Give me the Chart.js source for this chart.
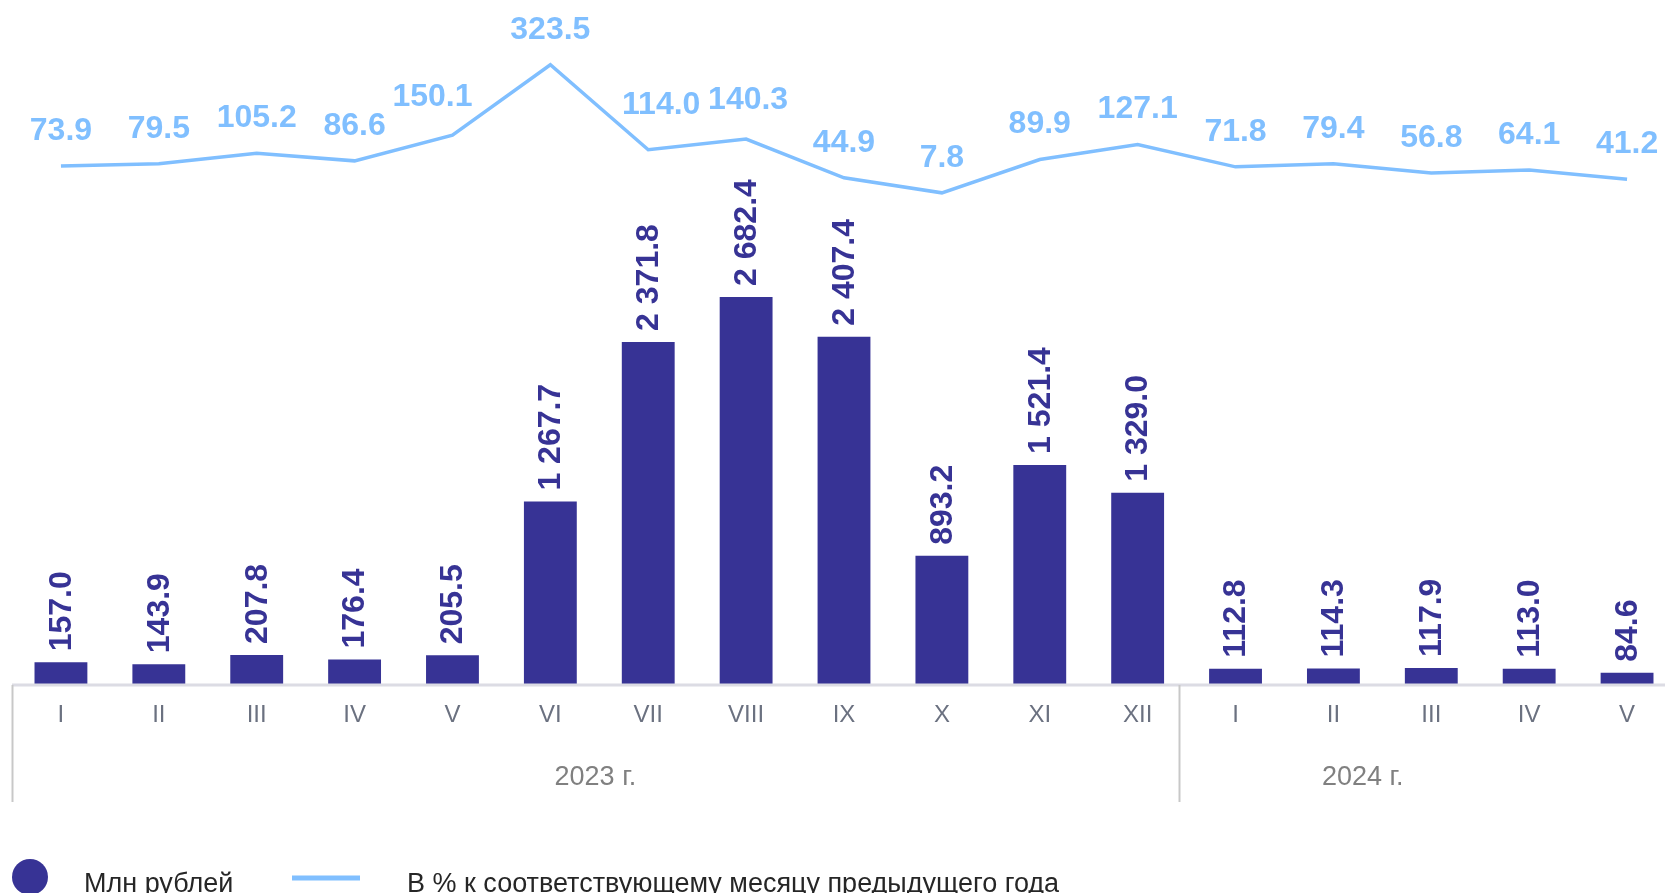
<!DOCTYPE html>
<html lang="ru">
<head>
<meta charset="utf-8">
<script src="https://cdn.jsdelivr.net/npm/chart.js@4"></script>
<style>
    html, body { margin: 0; padding: 0; background: #fff; overflow: hidden; }
    #wrap { position: absolute; left: 0; top: 0; width: 1700px; height: 893px; }
</style>
</head>
<body>
<div id="wrap"><canvas id="chart" width="1700" height="893"></canvas></div>
<script>
// Months (2023 I..XII, 2024 I..V)
const months = ['I', 'II', 'III', 'IV', 'V', 'VI', 'VII', 'VIII', 'IX', 'X', 'XI', 'XII', 'I', 'II', 'III', 'IV', 'V'];
const years = ['2023 г.', '2024 г.'];
// Million roubles (bars)
const mlnRub = [157.0, 143.9, 207.8, 176.4, 205.5, 1267.7, 2371.8, 2682.4, 2407.4, 893.2, 1521.4, 1329.0, 112.8, 114.3, 117.9, 113.0, 84.6];
// % to the same month of the previous year (line)
const pctPrevYear = [73.9, 79.5, 105.2, 86.6, 150.1, 323.5, 114.0, 140.3, 44.9, 7.8, 89.9, 127.1, 71.8, 79.4, 56.8, 64.1, 41.2];
const legendLabels = ['Млн рублей', 'В % к соответствующему месяцу предыдущего года'];

const barColor = '#373395';
const lineColor = '#80bfff';
const FONT = "'Liberation Sans', Arial, sans-serif";

// a few line labels were nudged by hand in the original
const lineLabelNudge = { 4: [-20, -3], 6: [13, -10], 7: [2, -4] };

function fmt(v) {
    const parts = v.toFixed(1).split('.');
    parts[0] = parts[0].replace(/\B(?=(\d{3})+(?!\d))/g, ' ');
    return parts.join('.');
}

// axis labels, group separators, value labels and legend
const decorations = {
    id: 'decorations',
    afterDatasetsDraw(chart) {
        const ctx = chart.ctx;
        const x = chart.scales.x;
        const area = chart.chartArea;
        const base = area.bottom;
        ctx.save();

        // baseline
        ctx.strokeStyle = '#dcdce4';
        ctx.lineWidth = 3;
        ctx.beginPath();
        ctx.moveTo(area.left, base);
        ctx.lineTo(chart.width, base);
        ctx.stroke();

        // group separators
        ctx.strokeStyle = '#c8c8c8';
        ctx.lineWidth = 2;
        [-0.5, 11.42].forEach(i => {
            const px = Math.round(x.getPixelForValue(i)) + 0.5;
            ctx.beginPath();
            ctx.moveTo(px, base);
            ctx.lineTo(px, base + 117);
            ctx.stroke();
        });

        // month ticks
        ctx.fillStyle = '#6b7180';
        ctx.font = '24px ' + FONT;
        ctx.textAlign = 'center';
        ctx.textBaseline = 'middle';
        months.forEach((m, i) => ctx.fillText(m, x.getPixelForValue(i), base + 30));

        // year labels
        ctx.fillStyle = '#808080';
        ctx.font = '27px ' + FONT;
        [5.46, 13.3].forEach((pos, i) => ctx.fillText(years[i], x.getPixelForValue(pos), base + 93));

        // bar values (rotated)
        const barMeta = chart.getDatasetMeta(0);
        ctx.fillStyle = barColor;
        ctx.font = 'bold 32px ' + FONT;
        ctx.textAlign = 'left';
        barMeta.data.forEach((bar, i) => {
            ctx.save();
            ctx.translate(bar.x + 1, bar.y - 11);
            ctx.rotate(-Math.PI / 2);
            ctx.fillText(fmt(mlnRub[i]), 0, 0);
            ctx.restore();
        });

        // line values
        const lineMeta = chart.getDatasetMeta(1);
        ctx.fillStyle = lineColor;
        ctx.textAlign = 'center';
        lineMeta.data.forEach((pt, i) => {
            const n = lineLabelNudge[i] || [0, 0];
            ctx.fillText(fmt(pctPrevYear[i]), pt.x + n[0], pt.y - 35 + n[1]);
        });

        // legend
        ctx.fillStyle = barColor;
        ctx.beginPath();
        ctx.arc(30, 877, 18, 0, Math.PI * 2);
        ctx.fill();
        ctx.strokeStyle = lineColor;
        ctx.lineWidth = 5;
        ctx.beginPath();
        ctx.moveTo(292, 878);
        ctx.lineTo(360, 878);
        ctx.stroke();
        ctx.fillStyle = '#262626';
        ctx.font = '27px ' + FONT;
        ctx.textAlign = 'left';
        ctx.textBaseline = 'alphabetic';
        ctx.fillText(legendLabels[0], 84, 892);
        ctx.fillText(legendLabels[1], 407, 892);

        ctx.restore();
    }
};

new Chart(document.getElementById('chart'), {
    type: 'bar',
    data: {
        labels: months,
        datasets: [
            {
                type: 'bar',
                label: legendLabels[0],
                data: mlnRub,
                backgroundColor: barColor,
                barPercentage: 0.54,
                categoryPercentage: 1,
                yAxisID: 'y',
                order: 2
            },
            {
                type: 'line',
                label: legendLabels[1],
                data: pctPrevYear,
                borderColor: lineColor,
                borderWidth: 3.5,
                pointRadius: 0,
                tension: 0,
                yAxisID: 'y2',
                order: 1
            }
        ]
    },
    options: {
        responsive: false,
        animation: false,
        layout: { padding: { left: 12, right: 24, top: 0, bottom: 208 } },
        plugins: {
            legend: { display: false },
            tooltip: { enabled: false }
        },
        scales: {
            x: { display: false, offset: true, grid: { display: false } },
            y: { display: false, min: 0, max: 4735 },
            y2: { display: false, position: 'right', min: -1205, max: 483 }
        }
    },
    plugins: [decorations]
});
</script>
</body>
</html>
